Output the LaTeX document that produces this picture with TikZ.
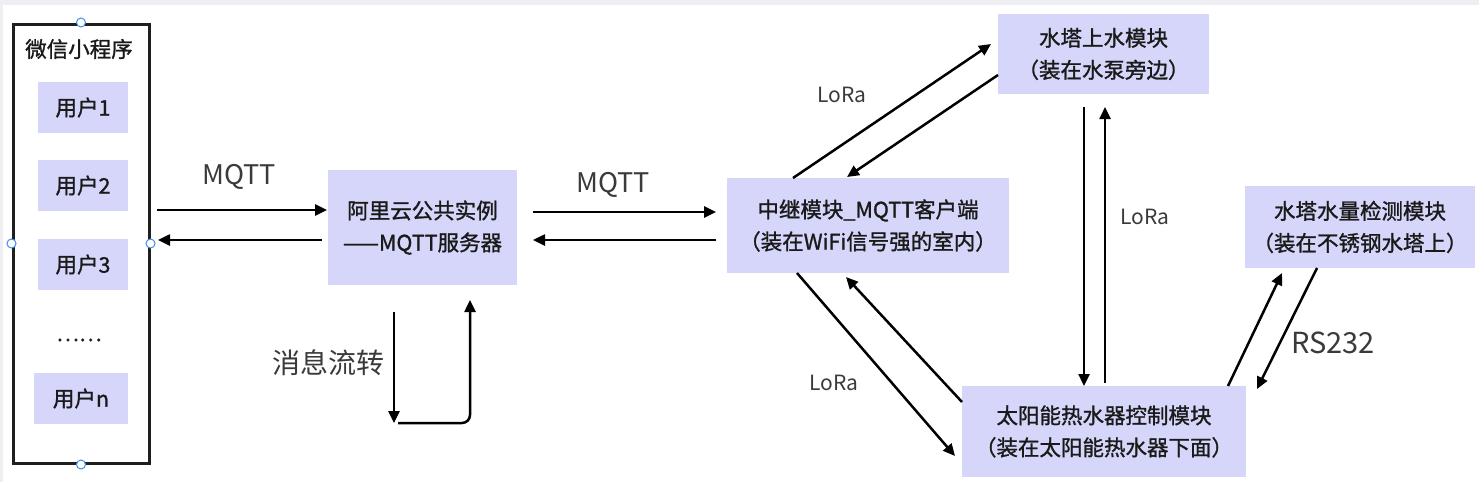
\documentclass[tikz,border=0pt]{standalone}
\usepackage{fontspec}
\setmainfont{Noto Sans CJK SC}
\newfontfamily\boxfont{Noto Sans CJK SC}[FakeBold=1.2]
\usetikzlibrary{arrows.meta}
\definecolor{boxfill}{HTML}{D6D6FA}
\definecolor{txt}{HTML}{1A1A1A}
\definecolor{lbl}{HTML}{3A3A3A}
\definecolor{handle}{HTML}{3D8FE8}
\definecolor{edge}{HTML}{EEEFF2}
\tikzset{
  pbox/.style={fill=boxfill, draw=none, text=txt, align=center, inner sep=0pt,
    font=\boxfont\fontsize{21.5}{32}\selectfont},
  ubox/.style={pbox, minimum width=90pt, minimum height=51pt},
  lab/.style={text=lbl, inner sep=0pt},
  conn/.style={line width=2.5pt, -{Triangle[length=12pt,width=11pt]}},
  hdl/.style={circle, draw=handle, fill=white, line width=1pt, minimum size=9pt, inner sep=0pt},
}
\begin{document}
\begin{tikzpicture}[x=1pt,y=-1pt]
\useasboundingbox (0,0) rectangle (1479,482);
\fill[white] (0,0) rectangle (1479,482);
\fill[edge] (0,0) rectangle (1479,5);
\fill[edge] (0,0) rectangle (3,482);

% left frame
\node[draw=black!88, line width=3pt, minimum width=136pt, minimum height=439pt, inner sep=0pt] (frame) at (81,243.5) {};
\node[text=txt, inner sep=0pt, font=\boxfont\fontsize{21.5}{25}\selectfont] (title) at (79,49) {微信小程序};
\node[ubox] (u1) at (83,107.5) {用户1};
\node[ubox] (u2) at (83,185.5) {用户2};
\node[ubox] (u3) at (83,264.5) {用户3};
\node[text=txt, inner sep=0pt, font=\boxfont\fontsize{21.5}{24}\selectfont] (dots) at (79,340) {……};
\node[ubox, minimum width=94pt] (un) at (81,398.5) {用户n};

% main boxes
\node[pbox, minimum width=189pt, minimum height=115pt] (srv) at (422.5,227.5) {阿里云公共实例\\——MQTT服务器};
\node[pbox, minimum width=282pt, minimum height=95pt] (relay) at (868,225.5) {中继模块\_MQTT客户端\\（装在WiFi信号强的室内）};
\node[pbox, minimum width=211pt, minimum height=80pt] (top) at (1103.5,54) {水塔上水模块\\（装在水泵旁边）};
\node[pbox, minimum width=284pt, minimum height=91pt] (ctrl) at (1104,431.5) {太阳能热水器控制模块\\（装在太阳能热水器下面）};
\node[pbox, minimum width=230pt, minimum height=82pt] (lvl) at (1360,227) {水塔水量检测模块\\（装在不锈钢水塔上）};

% labels
\node[lab, font=\fontsize{27}{30}\selectfont] (mq1) at (239,177) {MQTT};
\node[lab, font=\fontsize{27}{30}\selectfont] (mq2) at (613,185) {MQTT};
\node[lab, font=\fontsize{28}{30}\selectfont] (flow) at (328,363) {消息流转};
\node[lab, font=\fontsize{21}{24}\selectfont] (lr1) at (842,95) {LoRa};
\node[lab, font=\fontsize{21}{24}\selectfont] (lr2) at (1145,217) {LoRa};
\node[lab, font=\fontsize{21}{24}\selectfont] (lr3) at (834,383) {LoRa};
\node[lab, font=\fontsize{29}{32}\selectfont] (rs) at (1333,343) {RS232};

% endpoint coordinates
\coordinate (a1s) at (157,210); \coordinate (a1e) at (327,210);
\coordinate (a2s) at (322,240); \coordinate (a2e) at (158,240);
\coordinate (b1s) at (533,212); \coordinate (b1e) at (716,212);
\coordinate (b2s) at (716,240); \coordinate (b2e) at (533,240);
\coordinate (l1s) at (394,312); \coordinate (l1e) at (394,423);
\coordinate (l2s) at (398,423); \coordinate (l2e) at (470,300);
\coordinate (t1s) at (793,178); \coordinate (t1e) at (991,44);
\coordinate (t2s) at (998,75);  \coordinate (t2e) at (847,177);
\coordinate (v1s) at (1084,107); \coordinate (v1e) at (1084,386);
\coordinate (v2s) at (1105,383); \coordinate (v2e) at (1105,107);
\coordinate (c1s) at (797,273); \coordinate (c1e) at (955,456);
\coordinate (c2s) at (962,402); \coordinate (c2e) at (846,277);
\coordinate (r1s) at (1228,386); \coordinate (r1e) at (1282,273);
\coordinate (r2s) at (1317,268); \coordinate (r2e) at (1257,389);

\draw[conn] (a1s) -- (a1e);
\draw[conn] (a2s) -- (a2e);
\draw[conn] (b1s) -- (b1e);
\draw[conn] (b2s) -- (b2e);
\draw[conn] (l1s) -- (l1e);
\draw[conn, rounded corners=8pt] (l2s) -| (l2e);
\draw[conn] (t1s) -- (t1e);
\draw[conn] (t2s) -- (t2e);
\draw[conn] (v1s) -- (v1e);
\draw[conn] (v2s) -- (v2e);
\draw[conn] (c1s) -- (c1e);
\draw[conn] (c2s) -- (c2e);
\draw[conn] (r1s) -- (r1e);
\draw[conn] (r2s) -- (r2e);

% selection handles
\node[hdl] (h1) at (frame.north) {};
\node[hdl] (h2) at (frame.west) {};
\node[hdl] (h3) at (frame.east) {};
\node[hdl] (h4) at (frame.south) {};
\end{tikzpicture}
\end{document}
